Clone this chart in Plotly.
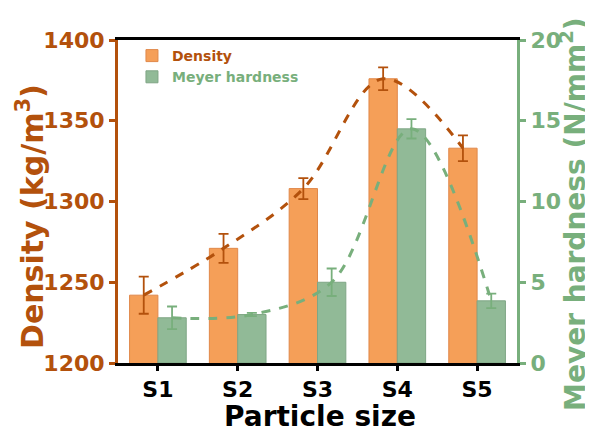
import plotly.graph_objects as go

categories = ["S1", "S2", "S3", "S4", "S5"]
density = [1242, 1271, 1308, 1376, 1333]
density_err = [11.5, 9, 6.5, 7, 8]
hardness = [2.8, 3.0, 5.0, 14.5, 3.85]
hardness_err = [0.7, 0.1, 0.85, 0.6, 0.45]

BROWN = "#B3510C"
ORANGE = "#F59F58"
GREEN_AX = "#78AF7C"
GREEN_BAR = "#91BA97"
FONT = "DejaVu Sans"

BAR_W = 0.355
xs = list(range(len(categories)))
x_den = [x - BAR_W / 2 for x in xs]
x_har = [x + BAR_W / 2 for x in xs]

fig = go.Figure()
fig.add_trace(go.Bar(
    x=xs, y=density, name=f"<span style='color:{BROWN}'>Density</span>",
    offsetgroup="1", width=BAR_W, yaxis="y",
    marker=dict(color=ORANGE, line=dict(color="#E0884A", width=1)),
    error_y=dict(type="data", array=density_err, color=BROWN, thickness=1.8, width=5),
))
fig.add_trace(go.Bar(
    x=xs, y=hardness, name=f"<span style='color:{GREEN_AX}'>Meyer hardness</span>",
    offsetgroup="2", width=BAR_W, yaxis="y2",
    marker=dict(color=GREEN_BAR, line=dict(color="#7FA685", width=1)),
    error_y=dict(type="data", array=hardness_err, color=GREEN_AX, thickness=1.8, width=5),
))
fig.add_trace(go.Scatter(
    x=x_den, y=density, mode="lines", yaxis="y", showlegend=False,
    line=dict(color=BROWN, width=3, dash="dash", shape="spline", smoothing=1),
))
fig.add_trace(go.Scatter(
    x=x_har, y=hardness, mode="lines", yaxis="y2", showlegend=False,
    line=dict(color=GREEN_AX, width=3, dash="dash", shape="spline", smoothing=1),
))

fig.update_layout(
    width=585, height=427,
    margin=dict(l=110, r=76, t=32, b=72, autoexpand=False),
    paper_bgcolor="white", plot_bgcolor="white",
    barmode="group", bargap=0.29, bargroupgap=0,
    font=dict(family=FONT, color="black"),
    showlegend=True,
    legend=dict(
        x=0.035, y=1.0, xanchor="left", yanchor="top",
        bgcolor="rgba(0,0,0,0)", font=dict(size=14, family=FONT, weight="bold"),
        tracegroupgap=2, itemwidth=30,
    ),
    xaxis=dict(
        range=[-0.5, 4.5], tickmode="array", tickvals=xs, ticktext=categories,
        showgrid=False, zeroline=False, automargin=False,
        showline=True, linecolor="black", linewidth=3, mirror=True,
        ticks="outside", ticklen=5, tickwidth=3, tickcolor="black",
        tickfont=dict(size=22, family=FONT, color="black", weight="bold"),
    ),
    yaxis=dict(
        range=[1200, 1400], tickvals=[1200, 1250, 1300, 1350, 1400],
        showgrid=False, zeroline=False, automargin=False,
        showline=True, linecolor=BROWN, linewidth=3,
        ticks="outside", ticklen=6, tickwidth=3, tickcolor=BROWN,
        tickfont=dict(size=22, family=FONT, color=BROWN, weight="bold"),
    ),
    yaxis2=dict(
        range=[0, 20], tickvals=[0, 5, 10, 15, 20],
        overlaying="y", side="right",
        showgrid=False, zeroline=False, automargin=False,
        showline=True, linecolor=GREEN_AX, linewidth=3,
        ticks="outside", ticklen=6, tickwidth=3, tickcolor=GREEN_AX,
        tickfont=dict(size=22, family=FONT, color=GREEN_AX, weight="bold"),
    ),
    annotations=[
        dict(text="Particle size", xref="paper", yref="paper", x=0.506, y=-0.166,
             xanchor="center", yanchor="middle", showarrow=False,
             font=dict(size=28, family=FONT, color="black", weight="bold")),
        dict(text="Density (kg/m<sup>3</sup>)", xref="paper", yref="paper", x=-0.2206, y=0.455,
             xanchor="center", yanchor="middle", showarrow=False, textangle=-90,
             font=dict(size=30, family=FONT, color=BROWN, weight="bold")),
        dict(text="Meyer hardness (N/mm<sup>2</sup>)", xref="paper", yref="paper", x=1.14, y=0.461,
             xanchor="center", yanchor="middle", showarrow=False, textangle=-90,
             font=dict(size=28, family=FONT, color=GREEN_AX, weight="bold")),
    ],
)

fig.write_html("out.html")
